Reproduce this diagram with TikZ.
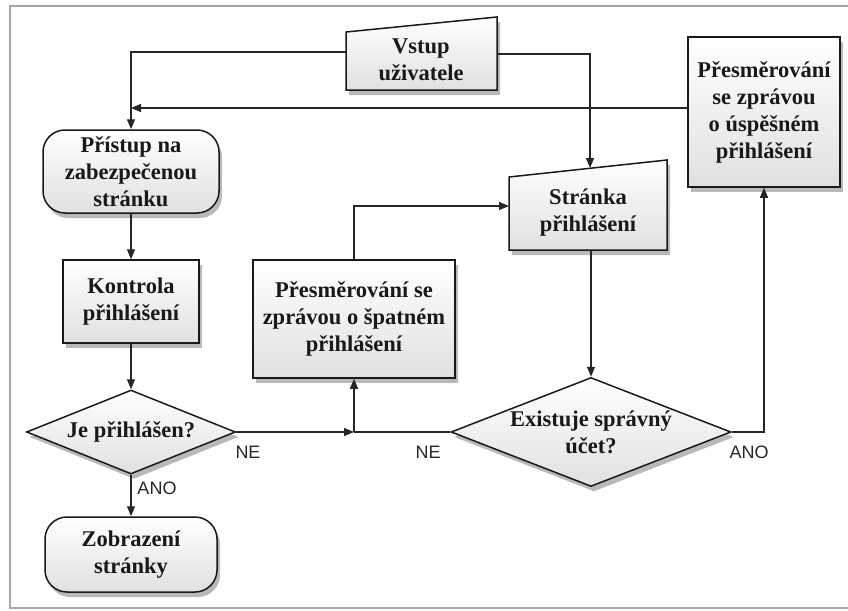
\documentclass[tikz,border=0pt]{standalone}
\usepackage{fontspec}
\setmainfont{Liberation Serif}
\newfontfamily\lblfont{Liberation Sans}
\usetikzlibrary{shapes.geometric,arrows.meta,shadows}
\begin{document}
\begin{tikzpicture}[x=1pt,y=-1pt,
  flow/.style={draw=black!85, line width=1.3pt, -{Triangle[length=10pt,width=8pt]}},
  plain/.style={draw=black!85, line width=1.3pt},
  boxfill/.style={draw=black!90, line width=1.5pt, top color=white, bottom color=black!12,
    drop shadow={opacity=0.55, shadow xshift=3pt, shadow yshift=-5pt}},
  txt/.style={font=\bfseries\fontsize{22.5}{27}\selectfont, align=center, text=black!90},
  procbox/.style={boxfill, txt, rectangle, inner sep=0pt},
  termbox/.style={boxfill, txt, rectangle, rounded corners=22pt, inner sep=0pt},
  decision/.style={boxfill, txt, diamond, aspect=2.5, inner sep=0pt},
  plaintxt/.style={txt, inner sep=0pt},
  lbl/.style={font=\lblfont\fontsize{18}{20}\selectfont, text=black!85, inner sep=0pt}
]
\useasboundingbox (0,0) rectangle (848,610);
% frame
\draw[gray!70, line width=1.5pt] (860,6) -- (10,6) -- (10,608) -- (860,608);

% manual input shapes
\path[boxfill] (346,32) -- (497,17) -- (497,90) -- (346,90) -- cycle;
\node[plaintxt] (vstup) at (421,60) {Vstup\\uživatele};
\path[boxfill] (509,177) -- (667,160) -- (667,250) -- (509,250) -- cycle;
\node[plaintxt] (stranka) at (588,213) {Stránka\\přihlášení};

% other nodes
\node[termbox, minimum width=176pt, minimum height=83pt] (pristup) at (131,171.5) {Přístup na\\zabezpečenou\\stránku};
\node[procbox, minimum width=136pt, minimum height=83pt] (kontrola) at (131,301.5) {Kontrola\\přihlášení};
\node[decision, minimum width=209pt, minimum height=84pt] (je) at (131,432) {Je přihlášen?};
\node[termbox, minimum width=172pt, minimum height=75pt] (zobrazeni) at (131,554.5) {Zobrazení\\stránky};
\node[procbox, minimum width=202pt, minimum height=118pt] (spatne) at (354,319) {Přesměrování se\\zprávou o špatném\\přihlášení};
\node[decision, minimum width=280pt, minimum height=109pt] (existuje) at (591,432) {Existuje správný\\účet?};
\node[procbox, minimum width=152pt, minimum height=150pt] (uspesne) at (764,112) {Přesměrování\\se zprávou\\o úspěšném\\přihlášení};

% connector coordinates
\coordinate (vstupW) at (346,52);
\coordinate (vstupE) at (497,54);
\coordinate (strankaTop) at (590,168);
\coordinate (strankaW) at (509,206);
\coordinate (strankaS) at (591,250);
\coordinate (junc) at (354,432);
\coordinate (uspW) at (688,108);

% connectors
\draw[flow] (vstupW) -| (pristup.north);
\draw[flow] (vstupE) -| (strankaTop);
\draw[flow] (uspW) -- (uspW -| pristup.north);
\draw[flow] (pristup.south) -- (kontrola.north);
\draw[flow] (kontrola.south) -- (je.north);
\draw[flow] (je.south) -- (zobrazeni.north);
\draw[flow] (je.east) -- (junc);
\draw[plain] (existuje.west) -- (junc);
\draw[flow] (junc) -- (spatne.south);
\draw[flow] (spatne.north) |- (strankaW);
\draw[flow] (strankaS) -- (existuje.north);
\draw[flow] (existuje.east) -| (uspesne.south);

% labels
\node[lbl] (ne1) at (248,452) {NE};
\node[lbl] (ne2) at (428,452) {NE};
\node[lbl] (ano1) at (749,452) {ANO};
\node[lbl] (ano2) at (157,488) {ANO};
\end{tikzpicture}
\end{document}
